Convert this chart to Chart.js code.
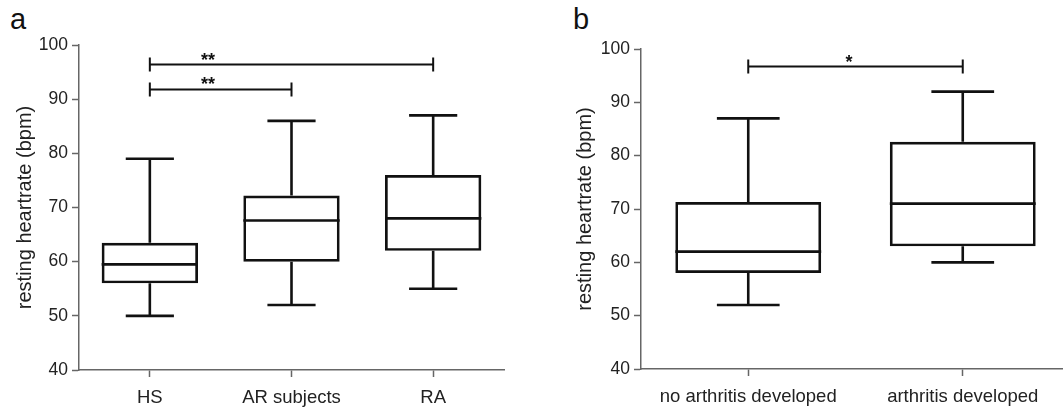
<!DOCTYPE html>
<html>
<head>
<meta charset="utf-8">
<script src="https://cdn.jsdelivr.net/npm/chart.js@4.4.0/dist/chart.umd.min.js"></script>
<style>
  html, body { margin: 0; padding: 0; background: #fff; overflow: hidden; }
  body { width: 1063px; height: 410px; position: relative; font-family: 'Liberation Sans', Arial, sans-serif; }
  .panel { position: absolute; top: 0; height: 410px; }
  .tag { position: absolute; font-size: 29px; line-height: 29px; color: #111; }
</style>
</head>
<body>
<div class="tag" style="left:10px;top:5px">a</div>
<div class="tag" style="left:573px;top:5px">b</div>
<div class="panel" style="left:0;width:530px"><canvas id="chart-a"></canvas></div>
<div class="panel" style="left:562px;width:508px"><canvas id="chart-b"></canvas></div>
<script>
  'use strict';

  /* panel a */
  const groupsA = ['HS', 'AR subjects', 'RA'];
  const minA = [50, 52, 55];
  const q1A = [56, 60, 62];
  const medA = [59.5, 67.6, 68];
  const q3A = [63.5, 72.2, 76];
  const maxA = [79, 86, 87];
  const sigFromA = [0, 0];
  const sigToA = [2, 1];
  const sigYA = [96.4, 91.8];
  const sigTextA = ['**', '**'];
  const sigTextPosA = [0.41, 0.41];

  /* panel b */
  const groupsB = ['no arthritis developed', 'arthritis developed'];
  const minB = [52, 60];
  const q1B = [58, 63];
  const medB = [62, 71];
  const q3B = [71.3, 82.6];
  const maxB = [87, 92];
  const sigFromB = [0];
  const sigToB = [1];
  const sigYB = [96.7];
  const sigTextB = ['*'];
  const sigTextPosB = [0.47];

  const yTicks = [40, 50, 60, 70, 80, 90, 100];

  const FONT = "'Liberation Sans', Arial, sans-serif";
  const INK = '#111';
  const AXIS = '#666';

  /* whiskers, medians and significance brackets, placed with the chart's scales */
  const boxExtras = {
    id: 'boxExtras',
    afterDatasetsDraw(chart, args, opts) {
      const { ctx, scales: { x, y } } = chart;
      const bars = chart.getDatasetMeta(0).data;
      ctx.save();
      ctx.strokeStyle = INK;
      ctx.lineWidth = 2.6;
      bars.forEach((bar, i) => {
        const cx = bar.x;
        const half = bar.width / 2;
        const cap = bar.width * opts.capRatio / 2;
        const yMin = y.getPixelForValue(opts.min[i]);
        const yQ1 = y.getPixelForValue(opts.q1[i]);
        const yMed = y.getPixelForValue(opts.med[i]);
        const yQ3 = y.getPixelForValue(opts.q3[i]);
        const yMax = y.getPixelForValue(opts.max[i]);
        ctx.beginPath();
        ctx.moveTo(cx - half, yMed); ctx.lineTo(cx + half, yMed);
        ctx.moveTo(cx, yQ3); ctx.lineTo(cx, yMax);
        ctx.moveTo(cx - cap, yMax); ctx.lineTo(cx + cap, yMax);
        ctx.moveTo(cx, yQ1); ctx.lineTo(cx, yMin);
        ctx.moveTo(cx - cap, yMin); ctx.lineTo(cx + cap, yMin);
        ctx.stroke();
      });

      ctx.lineWidth = 2;
      ctx.fillStyle = INK;
      ctx.font = 'bold 18px ' + FONT;
      ctx.textAlign = 'center';
      ctx.textBaseline = 'alphabetic';
      opts.sigFrom.forEach((from, k) => {
        const x0 = x.getPixelForValue(from);
        const x1 = x.getPixelForValue(opts.sigTo[k]);
        const yy = y.getPixelForValue(opts.sigY[k]);
        ctx.beginPath();
        ctx.moveTo(x0, yy); ctx.lineTo(x1, yy);
        ctx.moveTo(x0, yy - 7); ctx.lineTo(x0, yy + 7);
        ctx.moveTo(x1, yy - 7); ctx.lineTo(x1, yy + 7);
        ctx.stroke();
        const step = x.getPixelForValue(1) - x.getPixelForValue(0);
        ctx.fillText(opts.sigText[k], x0 + step * opts.sigTextPos[k], yy + 1);
      });
      ctx.restore();
    }
  };

  function makePanel(id, labels, stats, sig, fit) {
    return new Chart(document.getElementById(id), {
      type: 'bar',
      data: {
        labels: labels,
        datasets: [{
          data: labels.map((_, i) => [stats.q1[i], stats.q3[i]]),
          backgroundColor: 'rgba(0,0,0,0)',
          borderColor: INK,
          borderWidth: 2.7,
          borderSkipped: false,
          barPercentage: 0.68,
          categoryPercentage: 1
        }]
      },
      options: {
        responsive: true,
        maintainAspectRatio: false,
        animation: false,
        events: [],
        layout: { padding: { left: 0, top: fit.top, right: fit.right, bottom: 0 } },
        plugins: {
          legend: { display: false },
          tooltip: { enabled: false },
          boxExtras: Object.assign({ capRatio: fit.capRatio }, stats, sig)
        },
        scales: {
          x: {
            offset: true,
            grid: { display: true, offset: false, drawOnChartArea: false, tickLength: 7, tickColor: AXIS, tickWidth: 1.5 },
            border: { display: true, color: AXIS, width: 1.5 },
            ticks: { color: '#222', font: { family: FONT, size: 18.5 }, padding: 10, maxRotation: 0 },
            afterFit: s => { s.height = fit.xHeight; }
          },
          y: {
            min: 40,
            max: 100,
            afterBuildTicks: s => { s.ticks = yTicks.map(v => ({ value: v })); },
            grid: { display: true, drawOnChartArea: false, tickLength: 7, tickColor: AXIS, tickWidth: 1.5 },
            border: { display: true, color: AXIS, width: 1.5 },
            ticks: { color: '#222', font: { family: FONT, size: 17.5 }, padding: 4 },
            title: {
              display: true,
              text: 'resting heartrate (bpm)',
              color: '#222',
              font: { family: FONT, size: 20 },
              padding: { top: fit.titlePad, bottom: 0 }
            },
            afterFit: s => { s.width = 79; }
          }
        }
      },
      plugins: [boxExtras]
    });
  }

  makePanel('chart-a', groupsA,
    { min: minA, q1: q1A, med: medA, q3: q3A, max: maxA },
    { sigFrom: sigFromA, sigTo: sigToA, sigY: sigYA, sigText: sigTextA, sigTextPos: sigTextPosA },
    { top: 45, right: 26, xHeight: 40, titlePad: 13, capRatio: 0.5 });

  makePanel('chart-b', groupsB,
    { min: minB, q1: q1B, med: medB, q3: q3B, max: maxB },
    { sigFrom: sigFromB, sigTo: sigToB, sigY: sigYB, sigText: sigTextB, sigTextPos: sigTextPosB },
    { top: 49, right: 0, xHeight: 41, titlePad: 11, capRatio: 0.43 });
</script>
</body>
</html>
